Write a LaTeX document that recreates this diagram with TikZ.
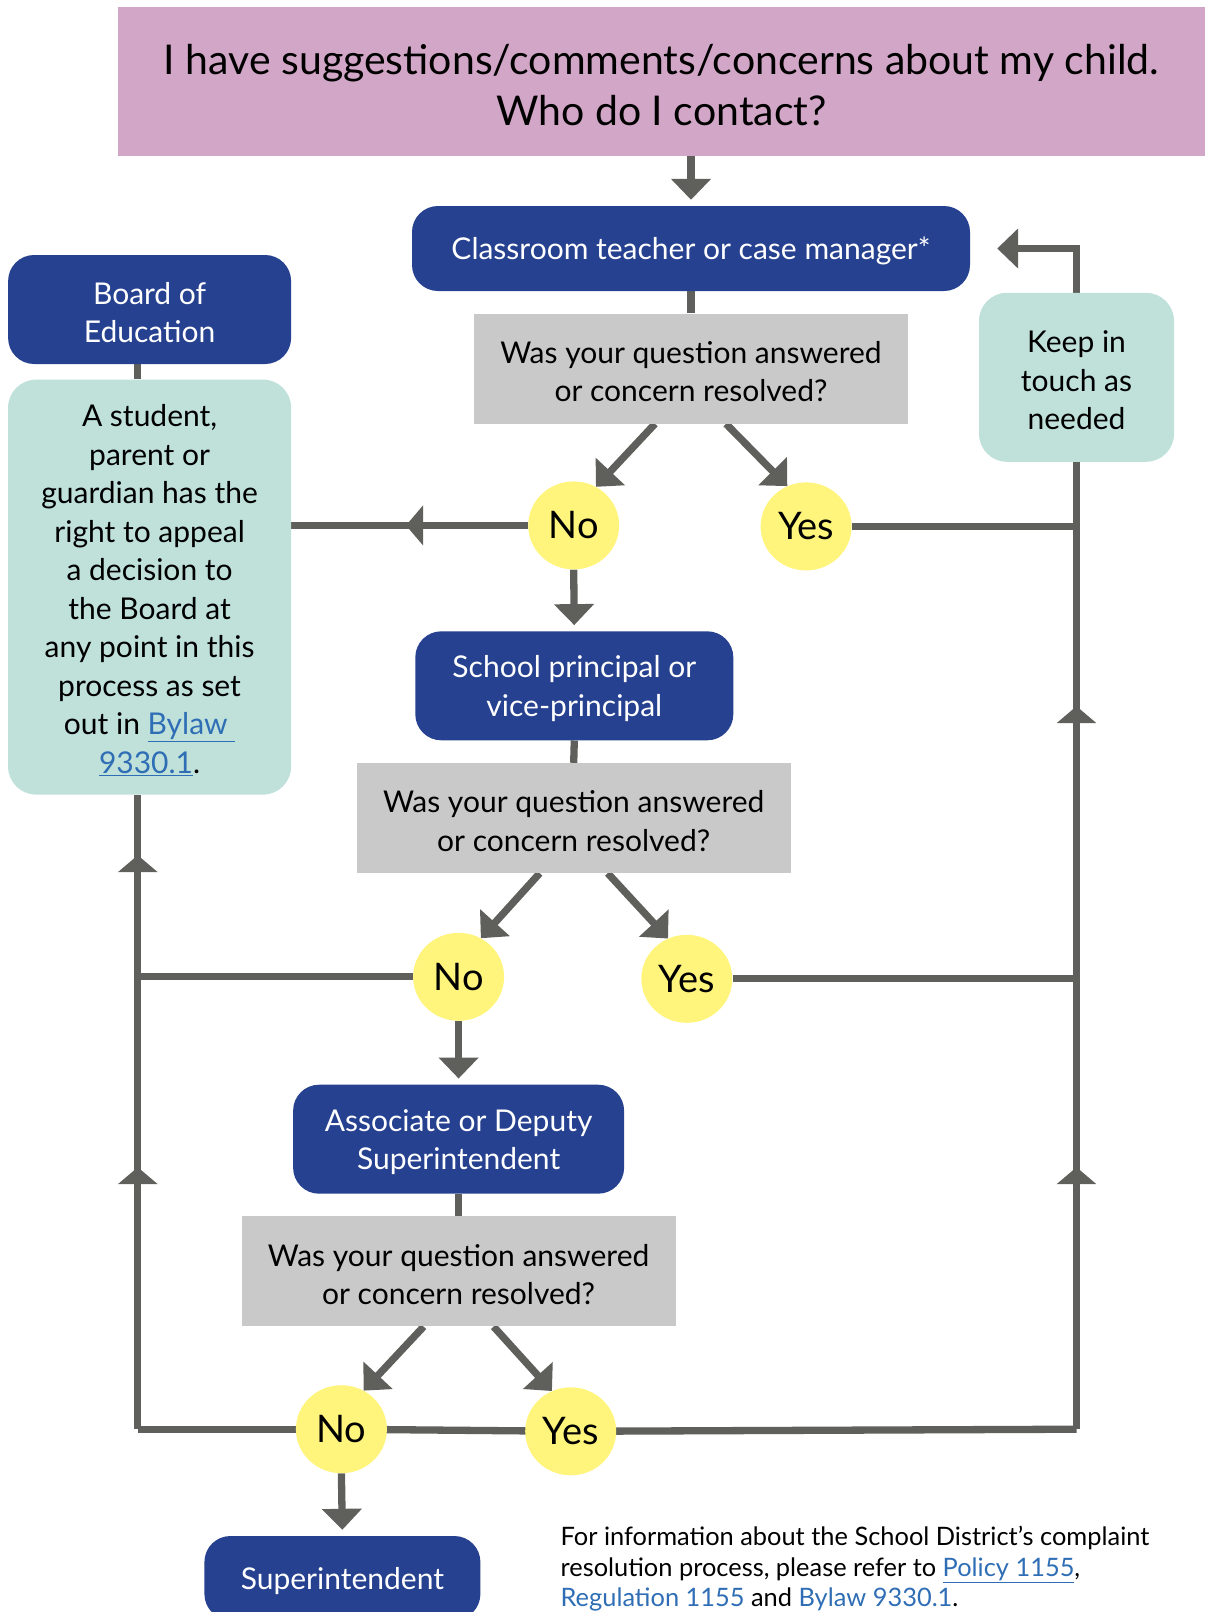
\documentclass[tikz,border=0pt]{standalone}
\usepackage{fontspec}
\setmainfont{Lato}
\usetikzlibrary{arrows.meta,shapes.geometric,decorations.markings,backgrounds}
\definecolor{dblue}{HTML}{26418F}
\definecolor{pinkc}{HTML}{D2A6C7}
\definecolor{greyc}{HTML}{C9C9C9}
\definecolor{tealc}{HTML}{BFE1DA}
\definecolor{yelc}{HTML}{FFF57C}
\definecolor{linec}{HTML}{5F605B}
\definecolor{linkc}{HTML}{2F6EB5}
\newcommand{\lnk}[1]{\textcolor{linkc}{\underline{#1}}}
\newcommand{\st}{\rule{0pt}{28pt}}
\newcommand{\stt}{\rule{0pt}{37pt}}
\begin{document}
\begin{tikzpicture}[x=1pt,y=-1pt,
  boxfont/.style={font=\fontsize{30}{38.5}\selectfont},
  titlebox/.style={fill=pinkc,minimum width=1087pt,minimum height=149pt,align=center,font=\fontsize{41}{51}\selectfont,inner sep=0pt},
  bluebox/.style={boxfont,fill=dblue,text=white,rounded corners=26pt,align=center,inner sep=0pt},
  greybox/.style={boxfont,fill=greyc,align=center,minimum width=434pt,minimum height=110pt,inner sep=0pt},
  tealbox/.style={boxfont,fill=tealc,rounded corners=28pt,align=center,inner sep=0pt},
  yn/.style={ellipse,fill=yelc,minimum width=91pt,minimum height=88pt,inner sep=0pt,font=\fontsize{38}{40}\selectfont},
  conn/.style={draw=linec,line width=7.3pt},
  arr/.style={conn,-{Triangle[width=39pt,length=21pt]}},
  upmarks/.style 2 args={postaction={decorate,decoration={markings,
     mark=at position #1 with {\arrow{Triangle[width=39pt,length=17pt]}},
     mark=at position #2 with {\arrow{Triangle[width=39pt,length=17pt]}}}}},
  onemark/.style={postaction={decorate,decoration={markings,
     mark=at position #1 with {\arrow{Triangle[width=39pt,length=17pt]}}}}}
]
\useasboundingbox (0,0) rectangle (1205,1612);

% nodes
\node[titlebox] (title) at (661.5,81.5) {\stt I have suggestions/comments/concerns about my child.\\Who do I contact?};
\node[bluebox,minimum width=558pt,minimum height=85pt] (class) at (691,248.5) {\st Classroom teacher or case manager*};
\node[greybox] (g1) at (691,368.6) {\st Was your question answered\\or concern resolved?};
\node[yn] (no1) at (573.7,525.4) {No};
\node[yn] (yes1) at (806.1,526.4) {Yes};
\node[bluebox,minimum width=318pt,minimum height=109pt] (prin) at (574.3,685.8) {\st School principal or\\vice-principal};
\node[greybox] (g2) at (573.7,818) {\st Was your question answered\\or concern resolved?};
\node[yn] (no2) at (458.6,976.8) {No};
\node[yn] (yes2) at (686.8,978.8) {Yes};
\node[bluebox,minimum width=331pt,minimum height=109pt] (assoc) at (458.6,1139.2) {\st Associate or Deputy\\Superintendent};
\node[greybox] (g3) at (458.6,1271.4) {\st Was your question answered\\or concern resolved?};
\node[yn] (no3) at (341.4,1429.2) {No};
\node[yn] (yes3) at (570.7,1431.3) {Yes};
\node[bluebox,minimum width=276pt,minimum height=84pt] (sup) at (342.4,1578) {\st Superintendent};
\node[bluebox,minimum width=283pt,minimum height=109pt] (board) at (149.6,309.5) {\st Board of\\Education};
\node[tealbox,minimum width=283pt,minimum height=415pt] (appeal) at (149.6,587.1) {\st A student,\\parent or\\guardian has the\\right to appeal\\a decision to\\the Board at\\any point in this\\process as set\\out in \lnk{Bylaw\ }\\\lnk{9330.1}.};
\node[tealbox,minimum width=195pt,minimum height=169pt] (keep) at (1076.5,377.3) {\st Keep in\\touch as\\needed};
\node[anchor=north west,align=left,inner sep=0pt,font=\fontsize{25.4}{30.5}\selectfont] (foot) at (560.4,1526) {For information about the School District’s complaint\\resolution process, please refer to \lnk{Policy 1155},\\\lnk{Regulation 1155} and \lnk{Bylaw 9330.1}.};

\coordinate (lb) at (137.8,1429.2);
\coordinate (rb) at (1076.5,1429.2);

% connectors
\begin{scope}[on background layer]
\draw[arr,shorten >=6pt] (class.north |- title.south) -- (class.north);
\draw[conn] (class.south) -- (g1.north);
\draw[arr] ([xshift=-36pt]g1.south) -- (no1.60);
\draw[arr] ([xshift=35pt]g1.south) -- (yes1.115);
\draw[conn,onemark=122pt] (no1.west) -- (no1 -| appeal.east);
\draw[arr,shorten >=6pt] (no1.south) -- (prin.north);
\draw[conn] (yes1.east) -- (yes1 -| rb);

\draw[conn] (prin.south) -- (g2.north);
\draw[arr] ([xshift=-34pt]g2.south) -- (no2.60);
\draw[arr] ([xshift=34pt]g2.south) -- (yes2.115);
\draw[conn] (no2.west) -- (no2 -| lb);
\draw[conn] (yes2.east) -- (yes2 -| rb);
\draw[arr,shorten >=6pt] (no2.south) -- (assoc.north);

\draw[conn] (assoc.south) -- (g3.north);
\draw[arr] ([xshift=-35pt]g3.south) -- (no3.60);
\draw[arr] ([xshift=35pt]g3.south) -- (yes3.115);
\draw[arr,shorten >=6pt] (no3.south) -- (sup.north);

\draw[conn] (no3.center) -- (lb);
\draw[conn] (no3.center) -- (yes3.center);
\draw[conn] (yes3.center) -- (rb);
\draw[conn,upmarks={262pt}{574pt}] (lb) -- (lb |- appeal.south);
\draw[conn,upmarks={262pt}{723pt}] (rb) -- (keep.south);
\draw[conn] (board.south -| lb) -- (appeal.north -| lb);
\draw[arr,shorten >=27pt] (keep.north) |- (class.east);
\end{scope}
\end{tikzpicture}
\end{document}
